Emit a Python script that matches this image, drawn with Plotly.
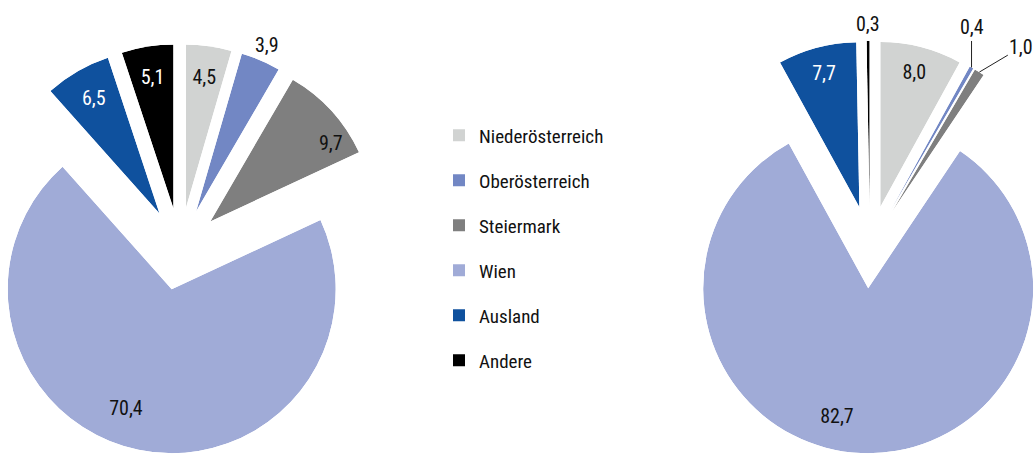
import math
import plotly.graph_objects as go

# Regions of origin, shares in percent
categories = ["Niederösterreich", "Oberösterreich", "Steiermark", "Wien", "Ausland", "Andere"]
colors = ["#D1D3D2", "#7287C4", "#7F7F7F", "#A0ABD7", "#0F519E", "#000000"]
label_colors = ["#111111", "#111111", "#111111", "#111111", "#FFFFFF", "#FFFFFF"]
left_values = [4.5, 3.9, 9.7, 70.4, 6.5, 5.1]
right_values = [8.0, 0.4, 1.0, 82.7, 7.7, 0.3]

W, H = 1034, 460
FONT = "Roboto Condensed, DejaVu Sans Condensed, sans-serif"
LABEL_SIZE = 20
LEGEND_SIZE = 19

# pie placement in pixels; every slice is pushed out from the centre by explode*radius
PIES = [
    dict(values=left_values, cx=180, cy=249, radius=164, explode=0.25, label_r=0.8),
    dict(values=right_values, cx=870, cy=247, radius=165, explode=0.25, label_r=0.83),
]

# per-slice label placement overrides: (radius fraction, extra angle in degrees)
LABEL_TWEAK = {(0, 2): (0.87, 10), (0, 3): (0.79, 9), (1, 3): (0.81, 11)}
# slices whose value is written beyond the rim; some get a leader line (pixel offsets)
OUTSIDE = [{1}, {1, 2, 5}]
LEADER = {(1, 1): (0, -40), (1, 2): (42, -25)}


def sector_bbox(s0, s1):
    """Bounding box of a polar sector on the unit circle (y up), as plotly.js computes it."""
    arc = s1 - s0
    a0 = s0 % 360
    a1 = a0 + arc
    ax0, ay0 = math.cos(math.radians(a0)), math.sin(math.radians(a0))
    ax1, ay1 = math.cos(math.radians(a1)), math.sin(math.radians(a1))
    if (a0 <= 90 and a1 >= 90) or (a0 > 90 and a1 >= 450):
        y1 = 1
    elif ay0 <= 0 and ay1 <= 0:
        y1 = 0
    else:
        y1 = max(ay0, ay1)
    if (a0 <= 180 and a1 >= 180) or (a0 > 180 and a1 >= 540):
        x0 = -1
    elif ax0 >= 0 and ax1 >= 0:
        x0 = 0
    else:
        x0 = min(ax0, ax1)
    if (a0 <= 270 and a1 >= 270) or (a0 > 270 and a1 >= 630):
        y0 = -1
    elif ay0 >= 0 and ay1 >= 0:
        y0 = 0
    else:
        y0 = min(ay0, ay1)
    if a1 >= 360:
        x1 = 1
    elif ax0 <= 0 and ax1 <= 0:
        x1 = 0
    else:
        x1 = max(ax0, ax1)
    return x0, y0, x1, y1


def fmt(v):
    return f"{v:.1f}".replace(".", ",")


def clamp(v):
    return min(max(v, 0.0), 1.0)


fig = go.Figure()
layout_polars = {}
slice_geo = []
n = 0
for p_idx, pie in enumerate(PIES):
    vals = pie["values"]
    total = sum(vals)
    R = pie["radius"]
    shift = pie["explode"] * R
    cum = 0.0
    geo = []
    for i, v in enumerate(vals):
        start = 360.0 * cum / total
        span = 360.0 * v / total
        mid = start + span / 2
        cum += v
        # centre of this exploded slice (screen pixels, y down)
        scx = pie["cx"] + shift * math.sin(math.radians(mid))
        scy = pie["cy"] - shift * math.cos(math.radians(mid))
        sector = [90.0 - (start + span), 90.0 - start]
        bx0, by0, bx1, by1 = sector_bbox(*sector)
        dom_x = [clamp((scx + R * bx0) / W), clamp((scx + R * bx1) / W)]
        dom_y = [clamp(1 - (scy - R * by0) / H), clamp(1 - (scy - R * by1) / H)]
        n += 1
        name = "polar" if n == 1 else f"polar{n}"
        layout_polars[name] = dict(
            domain=dict(x=dom_x, y=dom_y),
            sector=sector,
            bgcolor="rgba(0,0,0,0)",
            radialaxis=dict(range=[0, 1], visible=False),
            angularaxis=dict(rotation=90, direction="clockwise", visible=False),
        )
        fig.add_trace(go.Barpolar(
            r=[1], theta=[mid], width=[span], base=0,
            marker=dict(color=colors[i], line=dict(width=0)),
            name=categories[i], legendgroup=categories[i],
            showlegend=(p_idx == 0),
            subplot=name, hoverinfo="name+text", text=[fmt(v)],
        ))
        geo.append(dict(mid=mid, scx=scx, scy=scy, R=R, subplot=name, value=v, i=i))
    slice_geo.append(geo)

# value labels inside the larger slices
for p_idx, geo in enumerate(slice_geo):
    for g in geo:
        if g["i"] in OUTSIDE[p_idx]:
            continue
        rf, dang = LABEL_TWEAK.get((p_idx, g["i"]), (PIES[p_idx]["label_r"], 0))
        fig.add_trace(go.Scatterpolar(
            r=[rf], theta=[g["mid"] + dang], mode="text", text=[fmt(g["value"])],
            textfont=dict(family=FONT, size=LABEL_SIZE, color=label_colors[g["i"]]),
            subplot=g["subplot"], cliponaxis=False, hoverinfo="skip", showlegend=False,
        ))

# labels for the thin slices, placed beyond the rim
annotations = []
for p_idx, geo in enumerate(slice_geo):
    for g in geo:
        if g["i"] not in OUTSIDE[p_idx]:
            continue
        s, c = math.sin(math.radians(g["mid"])), math.cos(math.radians(g["mid"]))
        key = (p_idx, g["i"])
        common = dict(xref="paper", yref="paper", xanchor="center", yanchor="middle",
                      text=fmt(g["value"]),
                      font=dict(family=FONT, size=LABEL_SIZE, color="#111111"))
        if key in LEADER:
            px = g["scx"] + g["R"] * s
            py = g["scy"] - g["R"] * c
            ax, ay = LEADER[key]
            annotations.append(dict(
                x=px / W, y=1 - py / H, showarrow=True, arrowhead=0, arrowwidth=1,
                arrowcolor="#222222", ax=ax, ay=ay, standoff=0, **common,
            ))
        else:
            px = g["scx"] + 1.1 * g["R"] * s
            py = g["scy"] - 1.1 * g["R"] * c
            annotations.append(dict(x=px / W, y=1 - py / H, showarrow=False, **common))

fig.update_layout(
    width=W, height=H, template="none",
    margin=dict(l=0, r=0, t=0, b=0),
    paper_bgcolor="white", plot_bgcolor="white",
    font=dict(family=FONT, size=LABEL_SIZE, color="#111111"),
    showlegend=True,
    legend=dict(x=439 / W, y=1 - 116.5 / H, xanchor="left", yanchor="top",
                traceorder="grouped", tracegroupgap=17.3,
                font=dict(family=FONT, size=LEGEND_SIZE, color="#111111"),
                bgcolor="rgba(0,0,0,0)"),
    annotations=annotations,
    **layout_polars,
)

fig.write_html("out.html")
